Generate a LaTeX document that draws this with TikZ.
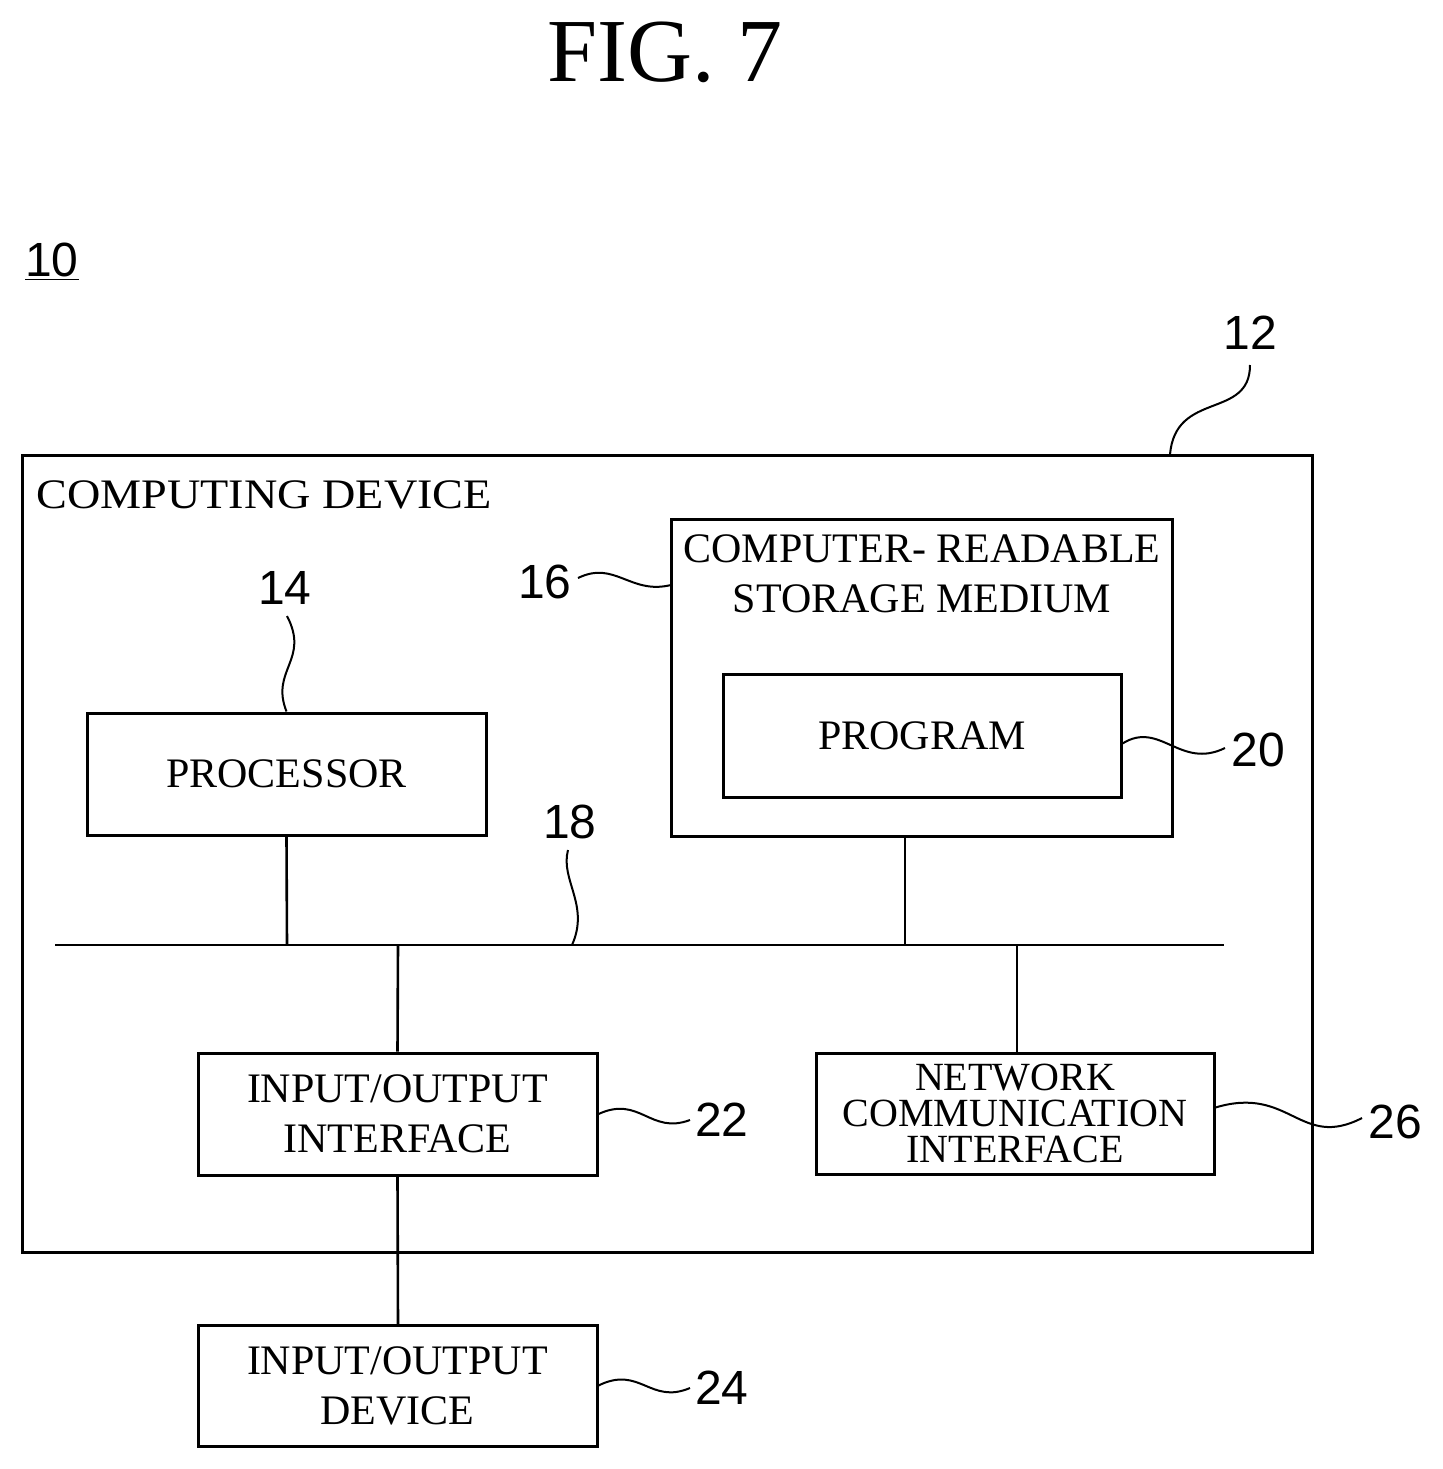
\documentclass[tikz,border=0pt]{standalone}
\usepackage{fontspec}
\setmainfont{Liberation Serif}
\setsansfont{Liberation Sans}
\begin{document}
\begin{tikzpicture}[x=0.5pt,y=-0.5pt,
  box/.style={draw,line width=1.5pt},
  lbl/.style={font=\fontsize{21}{23}\selectfont},
  num/.style={font=\sffamily\fontsize{24}{26}\selectfont},
  lead/.style={line width=1pt},
  wire/.style={line width=1.3pt}]
\useasboundingbox (0,0) rectangle (1443,1469);
\node[font=\fontsize{45}{50}\selectfont] (title) at (665,52) {FIG. 7};
\node[num] (n10) at (52,262) {\underline{10}};
\draw[box] (22,455) rectangle (1312,1252);
\coordinate (outerTR) at (1170,455);
\node[lbl,anchor=west,inner sep=0] (cd) at (36,495) {\scalebox{1.1}[1]{COMPUTING DEVICE}};
\node[num] (n12) at (1250,333) {12};
\draw[lead] (outerTR) .. controls (1175,390) and (1250,420) .. (1250,365);
% storage
\draw[box] (671,519) rectangle (1172,836);
\node[lbl,align=center] (storT) at (922,574) {COMPUTER- READABLE\\[2pt]STORAGE MEDIUM};
\node[num] (n16) at (545,582) {16};
\coordinate (s16) at (671,585);
\draw[lead] (578,578) .. controls (615,560) and (630,595) .. (s16);
% program
\node[box,minimum width=199pt,minimum height=61.5pt,inner sep=0] (prog) at (922,735.5) {};
\node[lbl] at (prog) {PROGRAM};
\node[num] (n20) at (1258,750) {20};
\draw[lead] (prog.east) ++(0,8) .. controls (1160,720) and (1180,770) .. (1225,748);
% processor
\node[box,minimum width=199.5pt,minimum height=61pt,inner sep=0] (proc) at (286.5,774) {};
\node[lbl] at (proc) {PROCESSOR};
\node[num] (n14) at (285,588) {14};
\draw[lead] (287,616) .. controls (310,660) and (270,670) .. (proc.north);
% bus
\coordinate (busL) at (55,945);
\coordinate (busR) at (1224,945);
\draw[wire] (busL) -- (busR);
\draw[wire] (proc.south) -- (287,945);
\draw[wire] (905,836) -- (905,945);
\node[num] (n18) at (570,822) {18};
\draw[lead] (568,850) .. controls (560,880) and (590,905) .. (572,945);
% io interface
\node[box,minimum width=199.5pt,minimum height=61pt,inner sep=0] (ioi) at (397.5,1114) {};
\node[lbl,align=center] at (ioi) {INPUT/OUTPUT\\[2pt]INTERFACE};
\draw[wire] (398,945) -- (ioi.north);
\node[num] (n22) at (722,1120) {22};
\draw[lead] (ioi.east) .. controls (640,1095) and (650,1135) .. (690,1120);
% network
\node[box,minimum width=199pt,minimum height=60.5pt,inner sep=0] (net) at (1015,1113.5) {};
\node[align=center,font=\fontsize{20}{18}\selectfont] at (net) {NETWORK\\COMMUNICATION\\INTERFACE};
\draw[wire] (1017,945) -- (1017,1053);
\node[num] (n26) at (1395,1122) {26};
\draw[lead] (net.east) ++(0,-6) .. controls (1290,1085) and (1300,1150) .. (1362,1118);
% io device
\draw[wire] (ioi.south) -- (398,1325);
\node[box,minimum width=199.5pt,minimum height=60.5pt,inner sep=0] (iod) at (397.5,1385.5) {};
\node[lbl,align=center] at (iod) {INPUT/OUTPUT\\[2pt]DEVICE};
\node[num] (n24) at (722,1388) {24};
\draw[lead] (iod.east) .. controls (640,1365) and (650,1405) .. (690,1388);
\end{tikzpicture}
\end{document}
